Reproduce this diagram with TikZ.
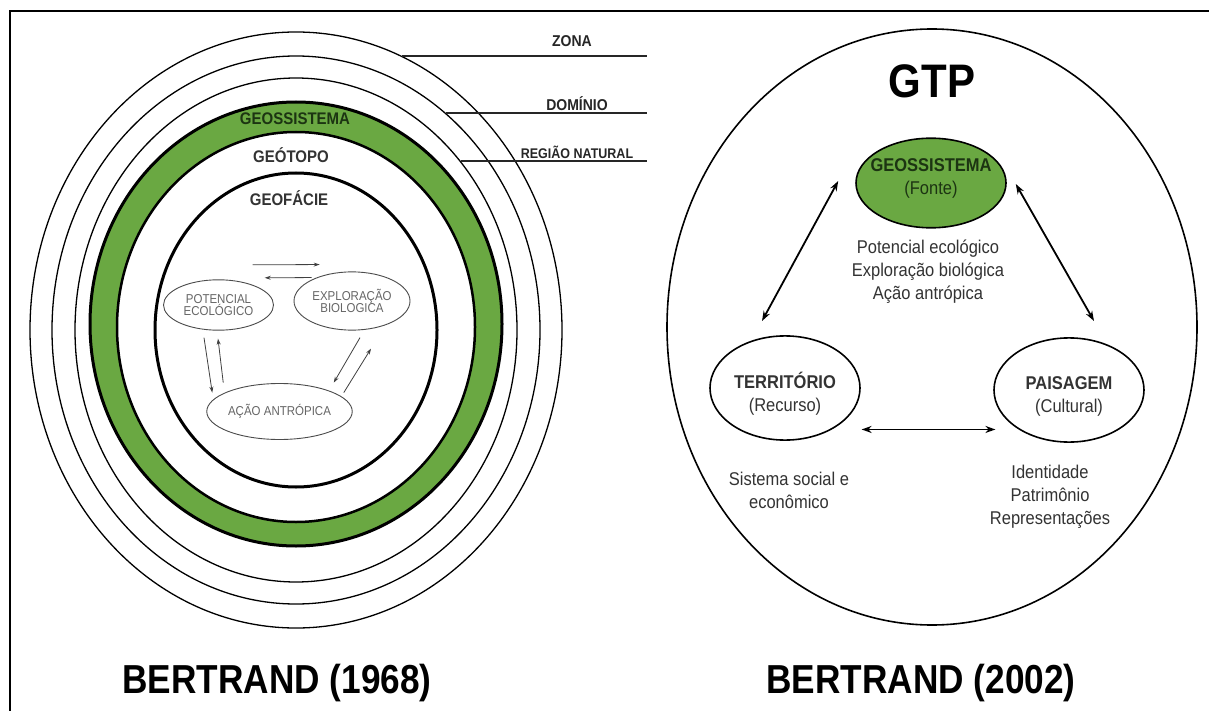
\documentclass[tikz,border=0pt]{standalone}
\usepackage{fontspec}
\setmainfont{Liberation Sans}
\usetikzlibrary{arrows.meta,shapes.geometric}

\definecolor{geogreen}{RGB}{106,168,66}
\definecolor{geodark}{RGB}{28,52,18}

\begin{document}
\begin{tikzpicture}[
  x=1pt, y=-1pt,
  thinring/.style={black, line width=1.3pt},
  thickring/.style={black, line width=3pt},
  lead/.style={black!85, line width=1.2pt},
  leadlbl/.style={font=\bfseries\fontsize{14}{14}\selectfont, text=black!85, yscale=1.12},
  ringlbl/.style={font=\bfseries\fontsize{15}{15}\selectfont, text=black!80, yscale=1.12},
  innerell/.style={ellipse, draw=black!70, line width=0.9pt, inner sep=0pt, yscale=1.12,
    align=center, font=\fontsize{11.5}{11}\selectfont, text=black!60},
  bigell/.style={ellipse, draw=black, line width=1.6pt, inner sep=0pt, yscale=1.12,
    minimum width=150, minimum height=93},
  body/.style={align=center, font=\fontsize{16.5}{20.5}\selectfont, text=black!80, yscale=1.12},
  title/.style={font=\bfseries\fontsize{35.2}{35.2}\selectfont, yscale=1.15},
  sarr/.style={-{Stealth[length=6pt,width=4pt]}, black!75, line width=0.8pt},
  darr/.style={{Stealth[length=10pt,width=7pt]}-{Stealth[length=10pt,width=7pt]}, line width=1.8pt}
]
\useasboundingbox (0,0) rectangle (1209,711);
\fill[white] (0,0) rectangle (1209,711);

% frame
\draw[line width=2.5pt] (10,711) -- (10,11) -- (1209,11);

% Bertrand 1968: rings
\fill[geogreen, even odd rule] (296,324) ellipse [x radius=206, y radius=222]
  (296,327) ellipse [x radius=179, y radius=195];
\draw[thickring] (296,324) ellipse [x radius=206, y radius=222];
\draw[black, line width=2.5pt] (296,327) ellipse [x radius=179, y radius=195];
\draw[thickring] (296,330) ellipse [x radius=141, y radius=157];
\foreach \rx/\ry in {266/298, 244/274, 221/252}
  \draw[thinring] (296,330) ellipse [x radius=\rx, y radius=\ry];

% leaders
\coordinate (zonaL) at (402,56);    \coordinate (zonaR) at (647,56);
\coordinate (domL) at (446,113);    \coordinate (domR) at (647,113);
\coordinate (regL) at (461,161);    \coordinate (regR) at (647,161);
\draw[lead] (zonaL) -- (zonaR);
\draw[lead] (domL) -- (domR);
\draw[lead] (regL) -- (regR);
\node[leadlbl] (zona) at (572,41) {ZONA};
\node[leadlbl] (dom) at (577,104) {DOMÍNIO};
\node[leadlbl, font=\bfseries\fontsize{12.5}{12.5}\selectfont] (reg) at (577,152) {REGIÃO NATURAL};

\node[ringlbl, text=geodark] (geos) at (295,119) {GEOSSISTEMA};
\node[ringlbl] (geot) at (291,155) {GEÓTOPO};
\node[ringlbl] (geof) at (289,198) {GEOFÁCIE};

% inner cycle
\node[innerell, minimum width=110, minimum height=45] (pot) at (218.5,305) {POTENCIAL\\ECOLÓGICO};
\node[innerell, minimum width=116, minimum height=52] (expl) at (352,301) {EXPLORAÇÃO\\BIOLOGICA};
\node[innerell, minimum width=116, minimum height=50] (act) at (279.5,411.5) {AÇÃO ANTRÓPICA};

\draw[sarr] ([shift={(-5,-22)}]pot.north east) -- ([shift={(9,-15.5)}]expl.north west);
\draw[sarr] ([shift={(1,-2.5)}]expl.north west) -- ([shift={(7,-9)}]pot.north east);
\draw[sarr] ([shift={(-14.5,7)}]pot.south) -- ([shift={(-15.5,1.3)}]act.north west);
\draw[sarr] ([shift={(-4.5,-8.7)}]act.north west) -- ([shift={(-0.5,8)}]pot.south);
\draw[sarr] ([shift={(8,7)}]expl.south) -- ([shift={(2.5,-8.7)}]act.north east);
\draw[sarr] ([shift={(12.5,1.3)}]act.north east) -- ([shift={(19,18)}]expl.south);

% Bertrand 2002
\draw[line width=1.6pt] (932,327) ellipse [x radius=265, y radius=298];
\node[font=\bfseries\fontsize{42}{42}\selectfont, yscale=1.12] (gtp) at (932,81) {GTP};

\node[bigell, fill=geogreen, minimum height=80] (geo) at (931,183) {};
\node[bigell] (terr) at (785,388) {};
\node[bigell] (pais) at (1069,390) {};
\node[body, text=geodark] (geolbl) at ([yshift=5]geo.center) {\textbf{GEOSSISTEMA}\\(Fonte)};
\node[body] (terrlbl) at ([yshift=-6]terr.center) {\textbf{TERRITÓRIO}\\(Recurso)};
\node[body] (paislbl) at ([yshift=-6]pais.center) {\textbf{PAISAGEM}\\(Cultural)};

\node[body] (geotxt) at (928,272) {Potencial ecológico\\Exploração biológica\\Ação antrópica};
\node[body] (terrtxt) at (789,490) {Sistema social e\\econômico};
\node[body] (paistxt) at (1050,497) {Identidade\\Patrimônio\\Representações};

\draw[darr] ([shift={(-23,-14)}]terr.north) -- ([shift={(-17,-2)}]geo.west);
\draw[darr] ([shift={(9,1)}]geo.east) -- ([shift={(25,-16)}]pais.north);
\draw[darr] ([shift={(23,4)}]terr.south east) -- ([shift={(-20,2)}]pais.south west);

% titles
\node[title] (t1968) at (277,683) {BERTRAND (1968)};
\node[title] (t2002) at (921,683) {BERTRAND (2002)};
\end{tikzpicture}
\end{document}
